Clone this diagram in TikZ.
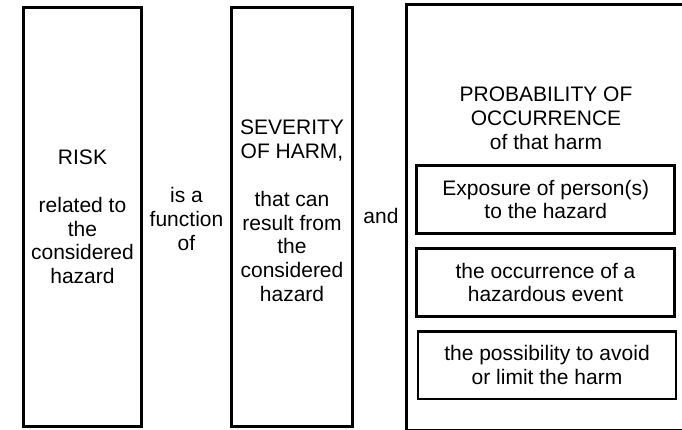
\documentclass[tikz,border=0pt]{standalone}
\usepackage{fontspec}
\setmainfont{Liberation Sans}
\begin{document}
\begin{tikzpicture}[x=1pt, y=-1pt,
  every node/.style={font=\fontsize{21}{23.8}\selectfont, align=center, inner sep=0pt},
  column/.style={draw, line width=2.8pt, minimum width=118pt, minimum height=419pt},
  factor/.style={draw, line width=2.8pt, minimum width=258pt, minimum height=68pt}]
  \useasboundingbox (0,0) rectangle (682,430);

  % columns
  \node[column] (R) at (82.5,217) {RISK\\[23.8pt]related to\\the\\considered\\hazard};
  \node[column, minimum width=121pt] (S) at (292,217) {};
  \node[column, draw=none, minimum width=278pt, minimum height=423pt] (P) at (547,217.5) {};
  \draw[line width=2.8pt] (P.south east) -- (P.south west) -- (P.north west) -- (P.north east);

  % texts between and inside
  \node (f) at (186.5,219) {is a\\function\\of};
  \node (a) at (381,216) {and};
  \node (s) at (292,211) {SEVERITY\\OF HARM,\\[23.8pt]that can\\result from\\the\\considered\\hazard};
  \node (p) at (546,118.5) {PROBABILITY OF\\OCCURRENCE\\of that harm};

  % the three parameters
  \node[factor] (E) at (545.75,199.5) {Exposure of person(s)\\to the hazard};
  \node[factor] (O) at (545.5,282.5) {the occurrence of a\\hazardous event};
  \node[factor, minimum height=67.5pt] (L) at (547,365.25) {the possibility to avoid\\or limit the harm};
\end{tikzpicture}
\end{document}
